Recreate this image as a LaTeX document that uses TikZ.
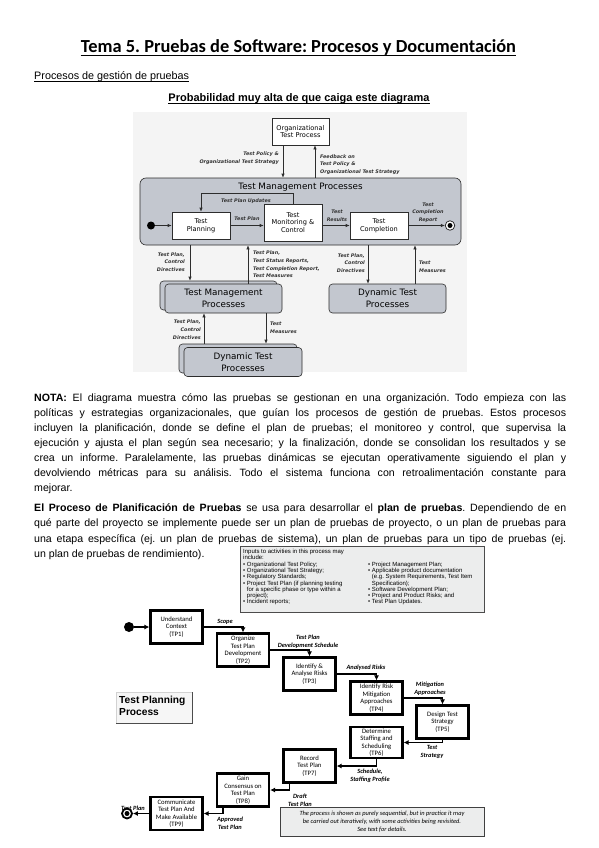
\documentclass[tikz,border=0pt]{standalone}
\usepackage{fontspec}
\setmainfont{Liberation Sans}
\newfontfamily\calfont{Carlito}
\newfontfamily\dvfont{DejaVu Sans}
\usetikzlibrary{arrows.meta,positioning}
\frenchspacing

\newcommand\fsz[2]{\fontsize{#1}{#2}\selectfont}

\definecolor{tmpgray}{RGB}{195,199,207}
\definecolor{figback}{RGB}{244,244,244}
\definecolor{inbox}{RGB}{236,237,237}
\definecolor{darkline}{RGB}{45,45,45}

\tikzset{
  wbox/.style={draw=darkline, semithick, fill=white, align=center, inner sep=0pt, font=\dvfont\fsz{6.6}{7.6}},
  gbox/.style={draw=darkline, semithick, fill=tmpgray, rounded corners=3.5pt, align=center, inner sep=0pt, font=\dvfont\fsz{8.8}{12}},
  flow/.style={draw=darkline, semithick, -{Latex[length=4pt,width=3.4pt]}},
  flabel/.style={font=\dvfont\bfseries\itshape\fsz{4.9}{7.7}, text=black!80, inner sep=0pt},
  tpbox/.style={draw, line width=2.2pt, fill=white, align=center, inner sep=0pt, minimum width=52, minimum height=33, font=\calfont\fsz{6.7}{7.5}},
  tpflow/.style={draw, line width=1.9pt, -{Latex[length=5pt,width=5pt]}},
  tplabel/.style={font=\calfont\bfseries\itshape\fsz{6.4}{7.6}, align=center, inner sep=0pt},
  bodyline/.style={anchor=base west, inner sep=0pt, font=\fsz{10.6}{15}},
}

\begin{document}
\begin{tikzpicture}[x=1pt,y=-1pt]
  \useasboundingbox (0,0) rectangle (599,848);
  \fill[white] (0,0) rectangle (599,848);

  % Headings
  \node[anchor=base, inner sep=0pt, font=\calfont\bfseries\fsz{18.4}{20}] (title) at (298.5,53) {Tema 5. Pruebas de Software: Procesos y Documentación};
  \draw[line width=1.1pt] ([yshift=-2.6pt]title.base west) -- ([yshift=-2.6pt]title.base east);
  \node[anchor=base west, inner sep=0pt, font=\fsz{10.8}{12}] (sect) at (34,80) {Procesos de gestión de pruebas};
  \draw[line width=0.5pt] ([yshift=-1.6pt]sect.base west) -- ([yshift=-1.6pt]sect.base east);
  \node[anchor=base, inner sep=0pt, font=\bfseries\fsz{11}{12}] (warn) at (299,102) {Probabilidad muy alta de que caiga este diagrama};
  \draw[line width=0.7pt] ([yshift=-1.6pt]warn.base west) -- ([yshift=-1.6pt]warn.base east);

  % First figure: test management processes
  \fill[figback] (133,112) rectangle (467,372);
  \node[wbox, minimum width=57, minimum height=27] (org) at (300.5,131.5) {Organizational\\Test Process};
  \node[gbox, rounded corners=6pt, minimum width=321, minimum height=67] (tmp) at (300.5,211.5) {};
  \node[inner sep=0pt, font=\dvfont\fsz{8.8}{10}] (tmptitle) at (300.5,187.5) {Test Management Processes};

  \draw[flow] ([xshift=-17.5]org.south) -- ([xshift=-17.5]org.south |- tmp.north);
  \draw[flow] ([xshift=14.5]org.south |- tmp.north) -- ([xshift=14.5]org.south);
  \node[flabel, anchor=east, align=right] (lpolicy) at (279,158) {Test Policy \&\\Organizational Test Strategy};
  \node[flabel, anchor=west, align=left] (lfeed) at (320,164.5) {Feedback on\\Test Policy \&\\Organizational Test Strategy};

  \node[wbox, minimum width=58, minimum height=27] (planning) at (201,225.5) {Test\\Planning};
  \node[wbox, minimum width=58, minimum height=37] (monitor) at (293,222.5) {Test\\Monitoring \&\\Control};
  \node[wbox, minimum width=58, minimum height=27] (complete) at (379,225.5) {Test\\Completion};
  \node[circle, fill=black, inner sep=0pt, minimum size=8] (start1) at (151,225.5) {};
  \node[circle, draw=darkline, thick, fill=white, inner sep=0pt, minimum size=9.5] (end1) at (450,225.5) {};
  \node[circle, fill=black, inner sep=0pt, minimum size=5] (end1dot) at (end1) {};

  \draw[flow] (start1) -- (planning.west);
  \draw[flow] (planning.east) -- (planning.east -| monitor.west);
  \draw[flow] (complete.west -| monitor.east) -- (complete.west);
  \draw[flow] (complete.east) -- (end1.west);
  \draw[flow] (monitor.north) -- ++(0,-10) -| (planning.north);
  \node[flabel] (lupd) at (246,201) {Test Plan Updates};
  \node[flabel] (lplan) at (247,219) {Test Plan};
  \node[flabel, align=center] (lres) at (337,215.5) {Test\\Results};
  \node[flabel, align=center] (lrep) at (428,212.5) {Test\\Completion\\Report};

  % lower processes
  \node[gbox, minimum width=117, minimum height=29] (tmpback) at (218.5,295.5) {};
  \node[gbox, minimum width=117, minimum height=29] (tmpsub) at (223.5,298.5) {Test Management\\Processes};
  \node[gbox, minimum width=117, minimum height=29] (dtp) at (387.5,298.5) {Dynamic Test\\Processes};
  \node[gbox, minimum width=118, minimum height=29] (dtpback) at (238,358.5) {};
  \node[gbox, minimum width=118, minimum height=29] (dtpsub) at (243,362) {Dynamic Test\\Processes};

  \draw[flow] ([xshift=-28.5]tmpback.north |- tmp.south) -- ([xshift=-28.5]tmpback.north);
  \draw[flow] ([xshift=24.5]tmpsub.north) -- ([xshift=24.5]tmpsub.north |- tmp.south);
  \draw[flow] ([xshift=-19.5]dtp.north |- tmp.south) -- ([xshift=-19.5]dtp.north);
  \draw[flow] ([xshift=27.5]dtp.north) -- ([xshift=27.5]dtp.north |- tmp.south);
  \draw[flow] ([xshift=-34]dtpback.north) -- ([xshift=-34]dtpback.north |- tmpsub.south);
  \draw[flow] ([xshift=42.5]tmpsub.south) -- ([xshift=42.5]tmpsub.south |- dtpback.north);

  \node[flabel, anchor=east, align=right] (ldir1) at (185,262) {Test Plan,\\Control\\Directives};
  \node[flabel, anchor=west, align=left] (lstat) at (253,264.5) {Test Plan,\\Test Status Reports,\\Test Completion Report,\\Test Measures};
  \node[flabel, anchor=east, align=right] (ldir2) at (365,263) {Test Plan,\\Control\\Directives};
  \node[flabel, anchor=west, align=left] (lmeas1) at (419,267) {Test\\Measures};
  \node[flabel, anchor=east, align=right] (ldir3) at (201,329.5) {Test Plan,\\Control\\Directives};
  \node[flabel, anchor=west, align=left] (lmeas2) at (270,328) {Test\\Measures};

  % Text block
  \node[bodyline] (nota1) at (34,401) {\hbox to 532pt{\textbf{NOTA:} El diagrama muestra cómo las pruebas se gestionan en una organización. Todo empieza con las}};
  \node[bodyline] (nota2) at (34,416) {\hbox to 532pt{políticas y estrategias organizacionales, que guían los procesos de gestión de pruebas. Estos procesos}};
  \node[bodyline] (nota3) at (34,431) {\hbox to 532pt{incluyen la planificación, donde se define el plan de pruebas; el monitoreo y control, que supervisa la}};
  \node[bodyline] (nota4) at (34,446) {\hbox to 532pt{ejecución y ajusta el plan según sea necesario; y la finalización, donde se consolidan los resultados y se}};
  \node[bodyline] (nota5) at (34,461) {\hbox to 532pt{crea un informe. Paralelamente, las pruebas dinámicas se ejecutan operativamente siguiendo el plan y}};
  \node[bodyline] (nota6) at (34,476) {\hbox to 532pt{devolviendo métricas para su análisis. Todo el sistema funciona con retroalimentación constante para}};
  \node[bodyline] (nota7) at (34,491) {mejorar.};

  \node[bodyline] (plan1) at (34,511) {\hbox to 532pt{\textbf{El Proceso de Planificación de Pruebas} se usa para desarrollar el \textbf{plan de pruebas}. Dependiendo de en}};
  \node[bodyline] (plan2) at (34,526.5) {\hbox to 532pt{qué parte del proyecto se implemente puede ser un plan de pruebas de proyecto, o un plan de pruebas para}};
  \node[bodyline] (plan3) at (34,542) {\hbox to 532pt{una etapa específica (ej. un plan de pruebas de sistema), un plan de pruebas para un tipo de pruebas (ej.}};
  \node[bodyline] (plan4) at (34,557.5) {un plan de pruebas de rendimiento).};

  % Second figure: test planning process
  \node[draw=black!70, fill=inbox, anchor=north west, minimum width=244, minimum height=66, inner sep=0pt] (inputs) at (240,546) {};
  \node[anchor=north west, align=left, inner sep=0pt, font=\fsz{6}{6.3}] (inleft) at (243,549) {Inputs to activities in this process may\\include:\\• Organizational Test Policy;\\• Organizational Test Strategy;\\• Regulatory Standards;\\• Project Test Plan (if planning testing\\\phantom{• }for a specific phase or type within a\\\phantom{• }project);\\• Incident reports;};
  \node[anchor=north west, align=left, inner sep=0pt, font=\fsz{6}{6.3}] (inright) at (368,561.6) {• Project Management Plan;\\• Applicable product documentation\\\phantom{• }(e.g. System Requirements, Test Item\\\phantom{• }Specification);\\• Software Development Plan;\\• Project and Product Risks; and\\• Test Plan Updates.};

  \node[draw=gray!35, fill=gray!7, anchor=north west, minimum width=76, minimum height=31, inner sep=0pt] (tppbox) at (116,692) {};
  \draw[thick, black!70] (tppbox.north east) -- (tppbox.south east) -- (tppbox.south west);
  \node[anchor=north west, align=left, inner sep=0pt, font=\bfseries\fsz{10.2}{12.3}] (tpptext) at (119,695.5) {Test Planning\\Process};

  \node[tpbox] (tp1) at (176.5,627) {Understand\\Context\\(TP1)};
  \node[tpbox] (tp2) at (243,650) {Organize\\Test Plan\\Development\\(TP2)};
  \node[tpbox] (tp3) at (309.5,674) {Identify \&\\Analyse Risks\\(TP3)};
  \node[tpbox] (tp4) at (376.5,698) {Identify Risk\\Mitigation\\Approaches\\(TP4)};
  \node[tpbox] (tp5) at (442.5,722) {Design Test\\Strategy\\(TP5)};
  \node[tpbox, minimum height=31] (tp6) at (376.5,742.5) {Determine\\Staffing and\\Scheduling\\(TP6)};
  \node[tpbox] (tp7) at (309.5,766) {Record\\Test Plan\\(TP7)};
  \node[tpbox] (tp8) at (243,790) {Gain\\Consensus on\\Test Plan\\(TP8)};
  \node[tpbox] (tp9) at (176.5,813.5) {Communicate\\Test Plan And\\Make Available\\(TP9)};

  \node[circle, fill=black, inner sep=0pt, minimum size=10] (start2) at (129,627) {};
  \node[circle, draw, line width=1.8pt, fill=white, inner sep=0pt, minimum size=10] (end2) at (127,813.5) {};
  \node[circle, fill=black, inner sep=0pt, minimum size=5] (end2dot) at (end2) {};

  \draw[tpflow] (start2) -- (tp1.west);
  \draw[tpflow] (tp1.east) -| (tp2.north);
  \draw[tpflow] (tp2.east) -| (tp3.north);
  \draw[tpflow] (tp3.east) -| (tp4.north);
  \draw[tpflow] (tp4.east) -| (tp5.north);
  \draw[tpflow] (tp5.south) |- (tp6.east);
  \draw[tpflow] (tp6.south) |- (tp7.east);
  \draw[tpflow] ([xshift=-20]tp7.south) |- (tp8.east);
  \draw[tpflow] ([xshift=-20]tp8.south) |- (tp9.east);
  \draw[tpflow] (tp9.west) -- (end2.east);

  \node[tplabel] (lscope) at (225,622) {Scope};
  \node[tplabel] (lsched) at (308,641.5) {Test Plan\\Development Schedule};
  \node[tplabel] (lrisk) at (366,668) {Analysed Risks};
  \node[tplabel] (lmitig) at (430,689) {Mitigation\\Approaches};
  \node[tplabel] (lstrat) at (432,752) {Test\\Strategy};
  \node[tplabel] (lstaff) at (370,776) {Schedule,\\Staffing Profile};
  \node[tplabel] (ldraft) at (300,800.5) {Draft\\Test Plan};
  \node[tplabel] (lappr) at (230,823) {Approved\\Test Plan};
  \node[tplabel] (lfinal) at (133,808) {Test Plan};

  \node[draw=black!75, fill=inbox, thick, minimum width=204, minimum height=29, inner sep=0pt, align=center, font=\calfont\itshape\fsz{6.4}{8}] (note) at (382,821.5) {The process is shown as purely sequential, but in practice it may\\be carried out iteratively, with some activities being revisited.\\See text for details.};
\end{tikzpicture}
\end{document}
